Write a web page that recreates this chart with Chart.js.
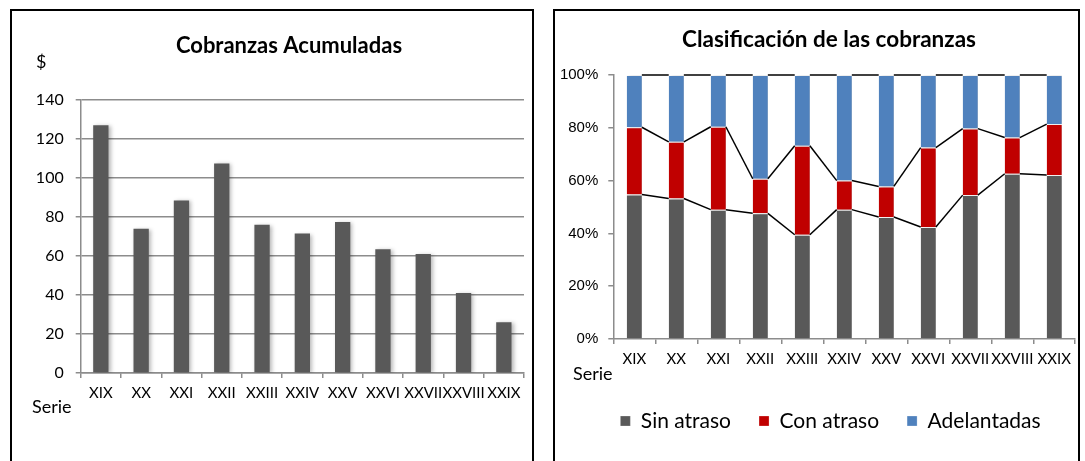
<!DOCTYPE html>
<html>
<head>
<meta charset="utf-8">
<script src="https://cdn.jsdelivr.net/npm/chart.js@4.4.1/dist/chart.umd.min.js"></script>
<style>
    body { margin: 0; background: #fff; width: 1085px; height: 461px; overflow: hidden; position: relative; }
    .caja { position: absolute; border: 2px solid #000; height: 470px; }
    canvas { position: absolute; }
</style>
</head>
<body>
<div class="caja" style="left:10px; top:9px; width:520px;"></div>
<div class="caja" style="left:553px; top:9px; width:523px;"></div>
<canvas id="chart-acumuladas" width="520" height="440" style="left:12px; top:11px;"></canvas>
<canvas id="chart-clasificacion" width="522" height="445" style="left:555px; top:11px;"></canvas>
<script>
const series = ['XIX', 'XX', 'XXI', 'XXII', 'XXIII', 'XXIV', 'XXV', 'XXVI', 'XXVII', 'XXVIII', 'XXIX'];
const acumuladas = [127, 74, 88.5, 107.5, 76, 71.5, 77.5, 63.5, 61, 41, 26];
const sinAtraso = [54.7, 53.2, 49.0, 47.6, 39.5, 49.0, 46.2, 42.4, 54.5, 62.6, 62.1];
const conAtraso = [25.5, 21.5, 31.4, 13.1, 33.7, 11.0, 11.6, 30.1, 25.2, 13.7, 19.3];
const adelantadas = [19.8, 25.3, 19.6, 39.3, 26.8, 40.0, 42.2, 27.5, 20.3, 23.7, 18.6];

const gris = '#8c8c8c';
Chart.defaults.font.family = 'Lato';
Chart.defaults.color = '#000';

// textos sueltos: titulo, "$" y "Serie"
const textos = {
    id: 'textos',
    afterDraw(chart, args, opts) {
        const ctx = chart.ctx;
        ctx.save();
        ctx.fillStyle = '#000';
        ctx.textBaseline = 'middle';
        opts.items.forEach(t => {
            ctx.font = t.font;
            ctx.textAlign = t.align;
            ctx.fillText(t.text, t.x, t.y);
        });
        ctx.restore();
    }
};

// sombra suave de las barras y lineas de serie entre columnas apiladas
const barras = {
    id: 'barras',
    beforeDatasetsDraw(chart) {
        const ctx = chart.ctx;
        ctx.save();
        ctx.shadowColor = 'rgba(0,0,0,0.28)';
        ctx.shadowBlur = 4;
        ctx.shadowOffsetX = 2;
        ctx.shadowOffsetY = 1;
    },
    afterDatasetsDraw(chart, args, opts) {
        const ctx = chart.ctx;
        ctx.restore();
        if (!opts.lineas) return;
        ctx.save();
        ctx.strokeStyle = '#000';
        ctx.lineWidth = 1.5;
        chart.data.datasets.forEach((ds, d) => {
            const barsMeta = chart.getDatasetMeta(d).data;
            for (let i = 0; i < barsMeta.length - 1; i++) {
                const a = barsMeta[i], b = barsMeta[i + 1];
                ctx.beginPath();
                ctx.moveTo(a.x + a.width / 2, a.y);
                ctx.lineTo(b.x - b.width / 2, b.y);
                ctx.stroke();
            }
        });
        ctx.restore();
    }
};

// la leyenda del original va algo corrida a la derecha
const moverLeyenda = {
    id: 'moverLeyenda',
    afterLayout(chart, args, opts) {
        if (chart.legend) chart.legend.left += opts.dx || 0;
    }
};

new Chart(document.getElementById('chart-acumuladas').getContext('2d'), {
    type: 'bar',
    data: {
        labels: series,
        datasets: [{
            label: 'Cobranzas Acumuladas',
            data: acumuladas,
            backgroundColor: '#595959',
            barPercentage: 0.38,
            categoryPercentage: 1
        }]
    },
    options: {
        responsive: false,
        animation: false,
        layout: { padding: { top: 89, right: 8, left: 0, bottom: 0 } },
        plugins: {
            legend: { display: false },
            tooltip: { enabled: false },
            barras: { lineas: false },
            textos: {
                items: [
                    { text: 'Cobranzas Acumuladas', x: 277, y: 35, align: 'center', font: 'bold 22px Lato' },
                    { text: '$', x: 24, y: 51, align: 'left', font: '18px Lato' },
                    { text: 'Serie', x: 20, y: 396, align: 'left', font: '18px Lato' }
                ]
            }
        },
        scales: {
            x: {
                afterFit(scale) { scale.height = 78; },
                grid: { drawOnChartArea: false, tickLength: 5, color: gris, lineWidth: 1.5 },
                border: { color: gris, width: 1.5 },
                ticks: { font: { size: 15 }, padding: 6, maxRotation: 0, autoSkip: false }
            },
            y: {
                min: 0,
                max: 140,
                afterFit(scale) { scale.width = 68.7; },
                grid: { color: gris, lineWidth: 1.5, tickLength: 5 },
                border: { color: gris, width: 1.5 },
                ticks: { stepSize: 20, font: { size: 16 }, padding: 12 }
            }
        }
    },
    plugins: [barras, textos]
});

new Chart(document.getElementById('chart-clasificacion').getContext('2d'), {
    type: 'bar',
    data: {
        labels: series,
        datasets: [
            { label: 'Sin atraso', data: sinAtraso, backgroundColor: '#595959' },
            { label: 'Con atraso', data: conAtraso, backgroundColor: '#c00000' },
            { label: 'Adelantadas', data: adelantadas, backgroundColor: '#4f81bd' }
        ].map(ds => Object.assign(ds, {
            barPercentage: 0.36,
            categoryPercentage: 1,
            borderColor: '#fff',
            borderWidth: { top: 1, bottom: 0, left: 0, right: 0 },
            borderSkipped: false
        }))
    },
    options: {
        responsive: false,
        animation: false,
        layout: { padding: { top: 64, right: 1, left: 0, bottom: 14.5 } },
        plugins: {
            legend: {
                position: 'bottom',
                labels: { boxWidth: 10, boxHeight: 10, padding: 28, font: { size: 21 } }
            },
            tooltip: { enabled: false },
            barras: { lineas: true },
            moverLeyenda: { dx: 30 },
            textos: {
                items: [
                    { text: 'Clasificación de las cobranzas', x: 274, y: 29, align: 'center', font: 'bold 22.5px Lato' },
                    { text: 'Serie', x: 18, y: 363, align: 'left', font: '18px Lato' }
                ]
            }
        },
        scales: {
            x: {
                stacked: true,
                afterFit(scale) { scale.height = 43.5; },
                grid: { drawOnChartArea: false, tickLength: 5, color: gris, lineWidth: 1.5 },
                border: { color: gris, width: 1.5 },
                ticks: { font: { size: 15 }, padding: 6, maxRotation: 0, autoSkip: false }
            },
            y: {
                stacked: true,
                min: 0,
                max: 100,
                afterFit(scale) { scale.width = 58.3; },
                grid: { drawOnChartArea: false, tickLength: 5, color: gris, lineWidth: 1.5 },
                border: { color: gris, width: 1.5 },
                ticks: {
                    stepSize: 20,
                    font: { family: 'Liberation Sans', size: 15 },
                    padding: 10,
                    callback: v => v + '%'
                }
            }
        }
    },
    plugins: [barras, moverLeyenda, textos]
});
</script>
</body>
</html>
